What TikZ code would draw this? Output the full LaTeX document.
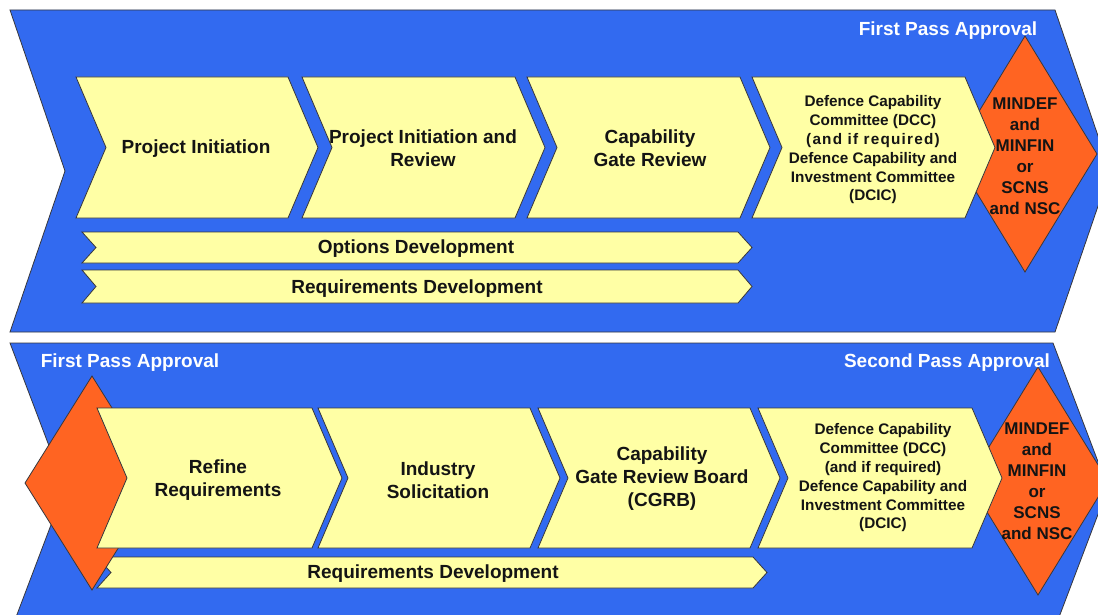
\documentclass[tikz,border=0pt]{standalone}
\usepackage{fontspec}
\setmainfont{Liberation Sans}
\definecolor{bandblue}{RGB}{50,106,240}
\definecolor{boxyellow}{RGB}{255,255,165}
\definecolor{gateorange}{RGB}{255,100,34}
\definecolor{edgegray}{RGB}{55,55,60}
\definecolor{txtdark}{RGB}{20,20,20}
% #1 style, #2 x1, #3 x2, #4 ytop, #5 ybot, #6 depth
\newcommand\chevpath[6]{%
  \path[#1] (#2,#4) -- (#3,#4) -- ({#3+#6},{(#4+#5)/2}) -- (#3,#5) -- (#2,#5)
    -- ({#2+#6},{(#4+#5)/2}) -- cycle;}
% #1 cx, #2 cy, #3 half width, #4 half height
\newcommand\gatepath[4]{%
  \path[gate] ({#1},{#2-#4}) -- ({#1+#3},{#2}) -- ({#1},{#2+#4}) -- ({#1-#3},{#2}) -- cycle;}
\tikzset{
  band/.style={fill=bandblue, draw=edgegray, line width=0.8pt},
  stepbox/.style={fill=boxyellow, draw=edgegray, line width=0.8pt},
  gate/.style={fill=gateorange, draw=edgegray, line width=0.8pt},
  steptext/.style={inner sep=0pt, align=center, text=txtdark,
    font=\bfseries\fontsize{19}{23}\selectfont},
  smalltext/.style={inner sep=0pt, align=center, text=txtdark,
    font=\bfseries\fontsize{15.3}{18.8}\selectfont},
  gatetext/.style={inner sep=0pt, align=center, text=txtdark,
    font=\bfseries\fontsize{17}{21}\selectfont},
  passtext/.style={inner sep=0pt, text=white,
    font=\bfseries\fontsize{19}{22}\selectfont},
}
\begin{document}
\begin{tikzpicture}[x=1pt,y=-1pt]
\useasboundingbox (0,0) rectangle (1098,615);
\clip (0,0) rectangle (1098,615);
\fill[white] (0,0) rectangle (1098,615);

% ---------- top band ----------
\chevpath{band}{10}{1055}{10}{332}{55}
\gatepath{1025}{154}{72}{118}
\chevpath{stepbox}{76}{288}{77}{218}{30}
\chevpath{stepbox}{302}{515}{77}{218}{30}
\chevpath{stepbox}{527}{740}{77}{218}{30}
\chevpath{stepbox}{752}{965}{77}{218}{30}
\chevpath{stepbox}{82}{738}{232}{263}{14}
\chevpath{stepbox}{82}{738}{270}{303}{14}

\node[passtext] (fpa1) at (948,31) {First Pass Approval};
\node[steptext] (t1) at (196,149) {Project Initiation};
\node[steptext] (t2) at (423,148) {Project Initiation and\\Review};
\node[steptext] (t3) at (650,148) {Capability\\Gate Review};
\node[smalltext] (t4) at (873,150) {Defence Capability\\Committee (DCC)\\{\addfontfeature{LetterSpace=8}(and if required)}\\Defence Capability and\\Investment Committee\\(DCIC)};
\node[gatetext] (g1) at (1025,156) {MINDEF\\and\\MINFIN\\or\\SCNS\\and NSC};
\node[steptext] (o1) at (416,249) {Options Development};
\node[steptext] (r1) at (417,289) {Requirements Development};

% ---------- bottom band ----------
\chevpath{band}{10}{1053}{343}{633}{55}
\chevpath{stepbox}{97}{753}{557}{588}{14}
\gatepath{92}{483}{67}{107}
\gatepath{1038}{481}{70}{114}
\chevpath{stepbox}{97}{312}{408}{548}{30}
\chevpath{stepbox}{318}{530}{408}{548}{30}
\chevpath{stepbox}{538}{750}{408}{548}{30}
\chevpath{stepbox}{758}{972}{408}{548}{30}

\node[passtext] (fpa2) at (130,363) {First Pass Approval};
\node[passtext] (spa) at (947,363) {Second Pass Approval};
\node[steptext] (b1) at (218,480) {Refine\\Requirements};
\node[steptext] (b2) at (438,480) {Industry\\Solicitation};
\node[steptext] (b3) at (662,479) {Capability\\Gate Review Board\\(CGRB)};
\node[smalltext] (b4) at (883,478) {Defence Capability\\Committee (DCC)\\(and if required)\\Defence Capability and\\Investment Committee\\(DCIC)};
\node[gatetext] (g2) at (1037,481) {MINDEF\\and\\MINFIN\\or\\SCNS\\and NSC};
\node[steptext] (r2) at (433,574) {Requirements Development};
\end{tikzpicture}
\end{document}
